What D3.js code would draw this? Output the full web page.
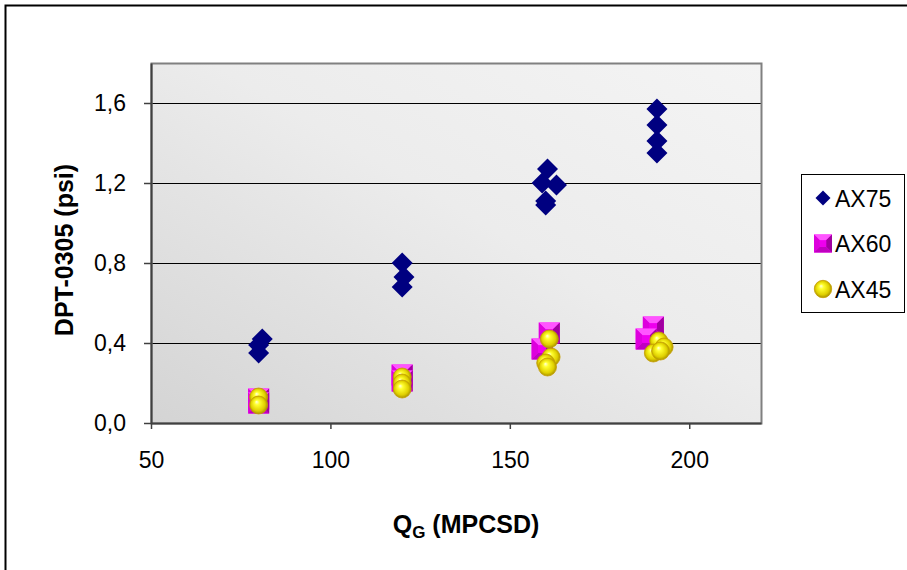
<!DOCTYPE html>
<html>
<head>
<meta charset="utf-8">
<script src="https://cdn.jsdelivr.net/npm/d3@7"></script>
<style>
  body { margin: 0; background: #fff; }
  svg { display: block; }
  text { font-family: Arial, "Liberation Sans", sans-serif; }
</style>
</head>
<body>
<svg id="chart" width="907" height="570"></svg>
<script>
// ---- data ----
const xTicks = [50, 100, 150, 200];
const yTicks = [0, 0.4, 0.8, 1.2, 1.6];
const yTickLabels = ["0,0", "0,4", "0,8", "1,2", "1,6"];
const seriesNames = ["AX75", "AX60", "AX45"];

const ax75X = [81, 80, 80, 120, 120.5, 120, 160.5, 159, 163, 160, 160, 191, 191, 191, 191];
const ax75Y = [0.42, 0.39, 0.35, 0.80, 0.73, 0.68, 1.27, 1.20, 1.19, 1.11, 1.09, 1.57, 1.49, 1.41, 1.35];

const ax60X = [80, 80, 120, 120, 161, 159, 190, 188];
const ax60Y = [0.12, 0.10, 0.24, 0.21, 0.45, 0.37, 0.48, 0.42];

const ax45X = [80, 80, 120, 120, 120, 161, 161.5, 160, 160.5, 191.5, 193, 190, 192];
const ax45Y = [0.13, 0.09, 0.23, 0.20, 0.17, 0.42, 0.33, 0.30, 0.28, 0.41, 0.38, 0.35, 0.36];

// ---- layout ----
const svg = d3.select("#chart");
const plot = { left: 151, top: 63, right: 761, bottom: 423 };

const x = d3.scaleLinear().domain([50, 220]).range([plot.left, plot.right]);
const y = d3.scaleLinear().domain([0, 1.8]).range([plot.bottom, plot.top]);

const defs = svg.append("defs");
const bg = defs.append("linearGradient").attr("id", "bg")
  .attr("x1", "0").attr("y1", "1").attr("x2", "1").attr("y2", "0");
bg.append("stop").attr("offset", "0").attr("stop-color", "#d4d4d4");
bg.append("stop").attr("offset", "0.55").attr("stop-color", "#ececec");
bg.append("stop").attr("offset", "1").attr("stop-color", "#f4f4f4");

const sph = defs.append("radialGradient").attr("id", "sphere")
  .attr("cx", "0.5").attr("cy", "0.5").attr("r", "0.55")
  .attr("fx", "0.38").attr("fy", "0.32");
sph.append("stop").attr("offset", "0").attr("stop-color", "#ffffe0");
sph.append("stop").attr("offset", "0.25").attr("stop-color", "#ffff30");
sph.append("stop").attr("offset", "0.7").attr("stop-color", "#e0d000");
sph.append("stop").attr("offset", "1").attr("stop-color", "#988000");

// outer frame
svg.append("rect").attr("x", 5.5).attr("y", 5.5).attr("width", 1000).attr("height", 1000)
  .attr("fill", "none").attr("stroke", "#000").attr("stroke-width", 2);

// plot background
svg.append("rect")
  .attr("x", plot.left).attr("y", plot.top)
  .attr("width", plot.right - plot.left).attr("height", plot.bottom - plot.top)
  .attr("fill", "url(#bg)");

// gridlines
svg.append("g").selectAll("line").data(yTicks.slice(1)).join("line")
  .attr("x1", plot.left).attr("x2", plot.right)
  .attr("y1", d => Math.round(y(d)) + 0.5).attr("y2", d => Math.round(y(d)) + 0.5)
  .attr("stroke", "#000").attr("stroke-width", 1);

// plot frame
svg.append("rect")
  .attr("x", plot.left + 0.5).attr("y", plot.top + 0.5)
  .attr("width", plot.right - plot.left).attr("height", plot.bottom - plot.top)
  .attr("fill", "none").attr("stroke", "#808080").attr("stroke-width", 2);

// axes
const xAxis = d3.axisBottom(x).tickValues(xTicks).tickSize(6).tickSizeOuter(0).tickPadding(23);
const gx = svg.append("g").attr("transform", `translate(0,${plot.bottom})`).call(xAxis);
gx.select(".domain").attr("stroke", "#404040").attr("stroke-width", 2);
gx.selectAll(".tick line").attr("stroke", "#404040").attr("stroke-width", 1.5);
gx.selectAll(".tick text").attr("font-size", 23).attr("fill", "#000")
  .attr("font-family", "Arial, 'Liberation Sans', sans-serif");

const yAxis = d3.axisLeft(y).tickValues(yTicks).tickFormat((d, i) => yTickLabels[i])
  .tickSize(7).tickSizeOuter(0).tickPadding(18);
const gy = svg.append("g").attr("transform", `translate(${plot.left},0)`).call(yAxis);
gy.select(".domain").attr("stroke", "#404040").attr("stroke-width", 2);
gy.selectAll(".tick line").attr("stroke", "#404040").attr("stroke-width", 1.5);
gy.selectAll(".tick text").attr("font-size", 23).attr("fill", "#000")
  .attr("font-family", "Arial, 'Liberation Sans', sans-serif");

// axis titles
svg.append("text").attr("transform", "translate(73,250) rotate(-90)")
  .attr("text-anchor", "middle").attr("font-size", 25).attr("font-weight", "bold")
  .text("DPT-0305 (psi)");

const xt = svg.append("text").attr("x", 466).attr("y", 533)
  .attr("text-anchor", "middle").attr("font-size", 25).attr("font-weight", "bold");
xt.append("tspan").text("Q");
xt.append("tspan").attr("font-size", 17).attr("dy", 5).text("G");
xt.append("tspan").attr("dy", -5).text(" (MPCSD)");

// ---- marker drawers ----
function diamond(g, cx, cy, s) {
  g.append("path")
    .attr("d", `M${cx},${cy - s}L${cx + s},${cy}L${cx},${cy + s}L${cx - s},${cy}Z`)
    .attr("fill", "#000080");
}
function pyramid(g, cx, cy, h) {
  const x0 = cx - h, x1 = cx + h, y0 = cy - h, y1 = cy + h;
  const ix0 = cx - h * 0.35, ix1 = cx + h * 0.35, iy0 = cy - h * 0.35, iy1 = cy + h * 0.35;
  g.append("rect").attr("x", x0).attr("y", y0).attr("width", 2 * h).attr("height", 2 * h).attr("fill", "#ff00ff");
  g.append("path").attr("d", `M${x0},${y0}L${x1},${y0}L${ix1},${iy0}L${ix0},${iy0}Z`).attr("fill", "#ff55ff");
  g.append("path").attr("d", `M${x0},${y0}L${ix0},${iy0}L${ix0},${iy1}L${x0},${y1}Z`).attr("fill", "#dd00dd");
  g.append("path").attr("d", `M${x1},${y0}L${x1},${y1}L${ix1},${iy1}L${ix1},${iy0}Z`).attr("fill", "#a000a0");
  g.append("path").attr("d", `M${x0},${y1}L${ix0},${iy1}L${ix1},${iy1}L${x1},${y1}Z`).attr("fill", "#c000c0");
  g.append("rect").attr("x", ix0).attr("y", iy0).attr("width", ix1 - ix0).attr("height", iy1 - iy0).attr("fill", "#ee00ee");
}
function sphere(g, cx, cy, r) {
  g.append("circle").attr("cx", cx).attr("cy", cy).attr("r", r)
    .attr("fill", "url(#sphere)").attr("stroke", "#c8a000").attr("stroke-width", 0.8);
}

// ---- points ----
const g75 = svg.append("g");
ax75X.forEach((v, i) => diamond(g75, x(v), y(ax75Y[i]), 10.5));
const g60 = svg.append("g");
ax60X.forEach((v, i) => pyramid(g60, x(v), y(ax60Y[i]), 10.5));
const g45 = svg.append("g");
ax45X.forEach((v, i) => sphere(g45, x(v), y(ax45Y[i]), 9));

// ---- legend ----
const lg = svg.append("g");
lg.append("rect").attr("x", 801.5).attr("y", 174.5).attr("width", 103).attr("height", 138)
  .attr("fill", "#fff").attr("stroke", "#000").attr("stroke-width", 1);
const ly = [198, 243.5, 289];
diamond(lg, 823, ly[0], 7.5);
pyramid(lg, 823, ly[1], 9);
sphere(lg, 823, ly[2], 8.7);
seriesNames.forEach((n, i) => {
  lg.append("text").attr("x", 835).attr("y", ly[i] + 8.5).attr("font-size", 23).text(n);
});
</script>
</body>
</html>
